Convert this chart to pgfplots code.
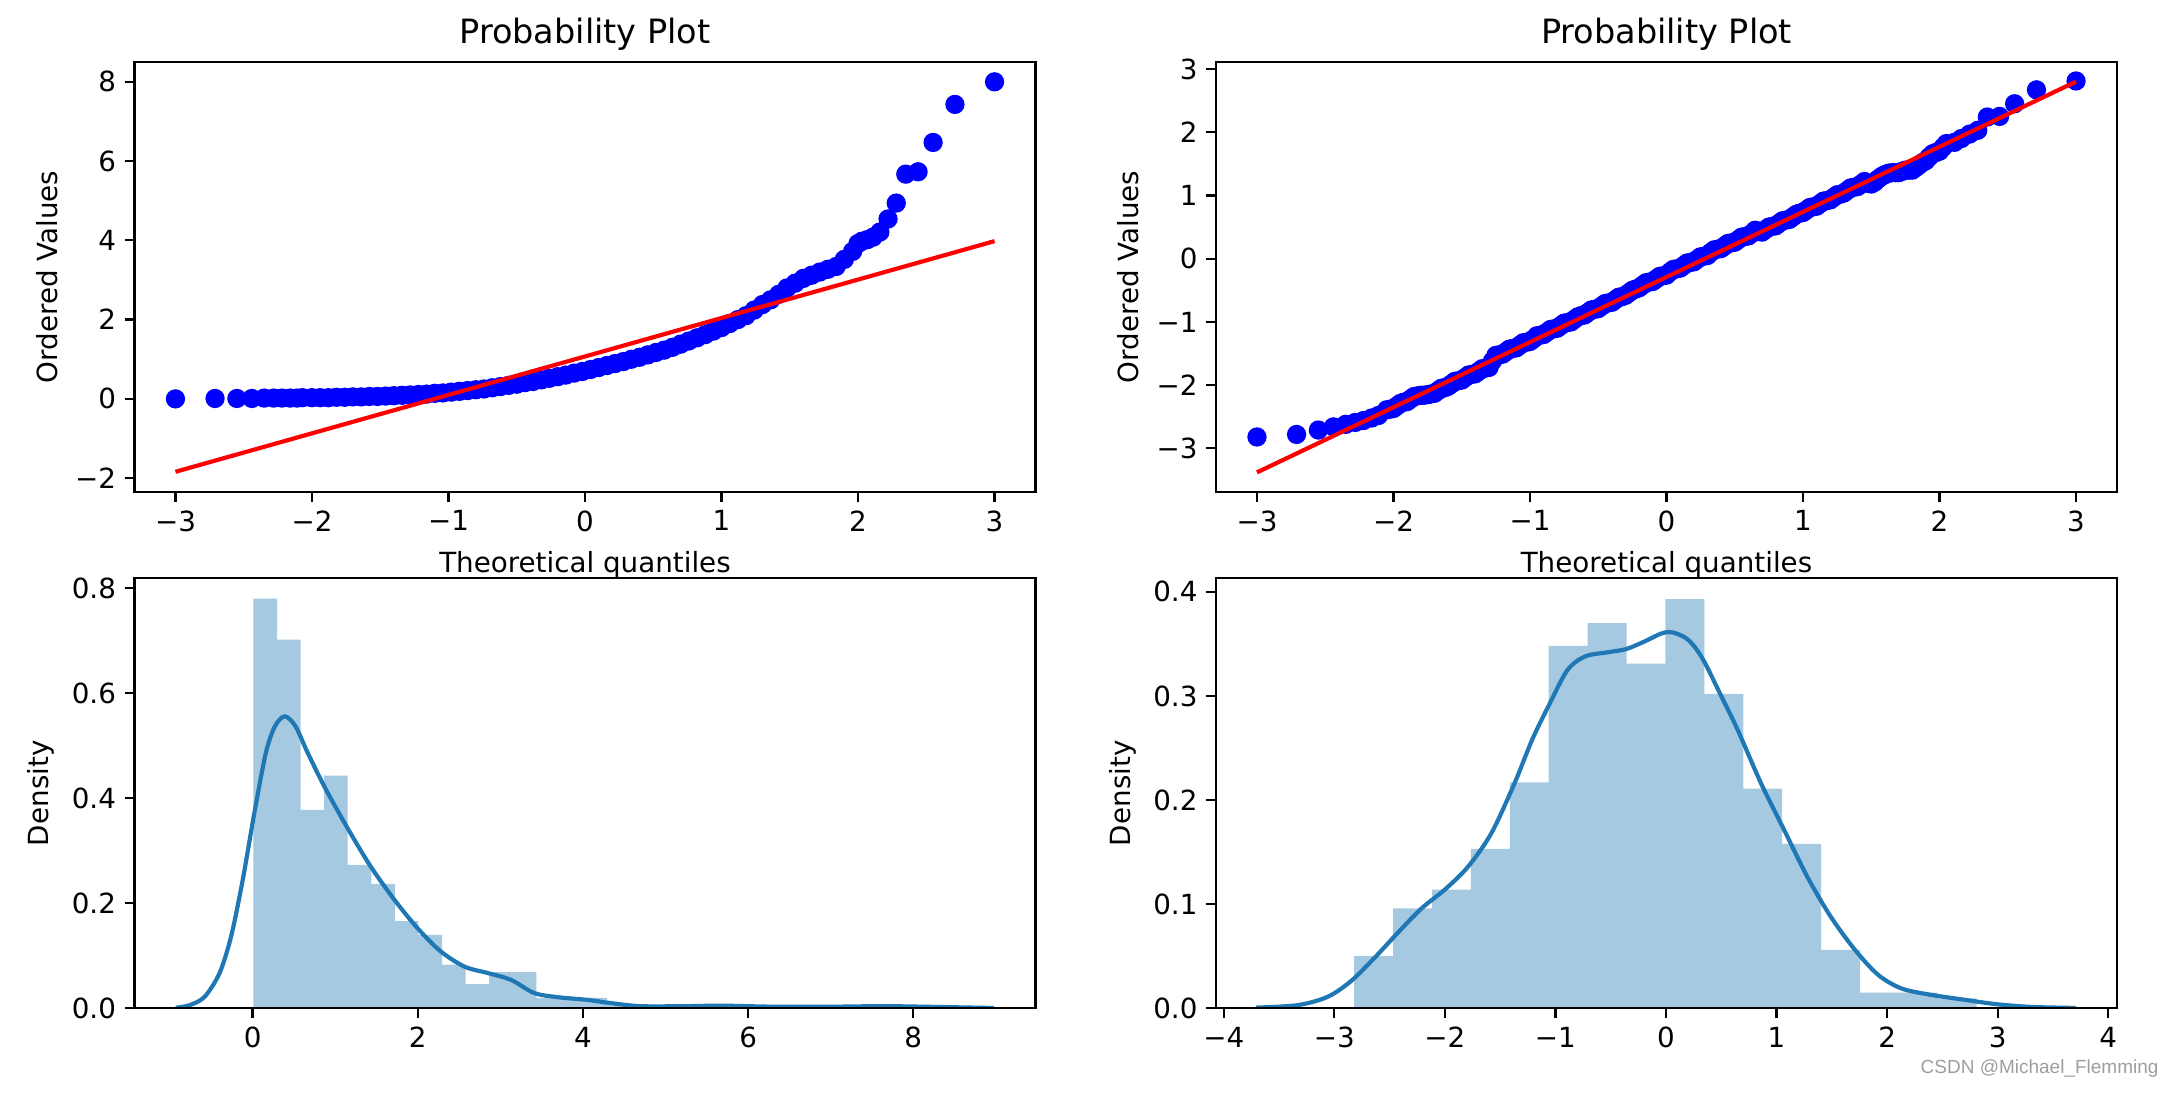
\documentclass[border=0pt]{standalone}
\usepackage{fontspec}
\setmainfont{DejaVu Sans}
\newfontfamily\wmfont{Liberation Sans}
\usepackage{pgfplots}
\pgfplotsset{compat=1.18}
\definecolor{c0}{HTML}{1F77B4}
\definecolor{histc}{HTML}{A5C9E1}
\definecolor{wmgray}{HTML}{9E9E9E}

\pgfplotsset{
  mpl/.style={
    scale only axis, width=360.4pt, height=172pt,
    axis on top, clip marker paths=true,
    axis line style={line width=0.89pt},
    tick align=outside, major tick length=3.9pt,
    every tick/.style={black, line width=0.89pt},
    xtick pos=bottom, ytick pos=left,
    tick label style={font=\fontsize{11.1}{13}\selectfont},
    label style={font=\fontsize{11.1}{13}\selectfont},
    title style={font=\fontsize{13.4}{16}\selectfont, yshift=-5pt},
    /pgf/number format/assume math mode=true,
  },
  qq/.style={
    mpl, xmin=-3.3, xmax=3.3,
    xtick={-3,-2,-1,0,1,2,3},
    xticklabels={−3,−2,−1,0,1,2,3},
    title={Probability Plot},
    xlabel={Theoretical quantiles},
    xlabel style={yshift=-1.2pt},
    ylabel={Ordered Values},
  },
  pts/.style={only marks, mark=*, mark size=3.3pt, mark options={fill=blue, draw=blue, line width=1.1pt}},
  fitline/.style={red, line width=1.67pt},
  kde/.style={c0, line width=1.67pt, smooth},
  hist/.style={ybar interval, fill=histc, draw=none},
}

\pgfplotstableread{
x y
-3.00 0.00
-2.71 0.01
-2.55 0.01
-2.44 0.01
-2.35 0.02
-2.28 0.02
-2.22 0.02
-2.16 0.02
-2.11 0.02
-2.07 0.03
-2.00 0.03
-1.94 0.03
-1.88 0.03
-1.82 0.04
-1.76 0.04
-1.70 0.05
-1.64 0.05
-1.58 0.06
-1.52 0.06
-1.46 0.07
-1.40 0.08
-1.34 0.09
-1.28 0.10
-1.22 0.11
-1.16 0.12
-1.10 0.14
-1.04 0.15
-0.98 0.17
-0.92 0.19
-0.86 0.21
-0.80 0.23
-0.74 0.25
-0.68 0.28
-0.62 0.31
-0.56 0.34
-0.50 0.37
-0.44 0.41
-0.38 0.44
-0.32 0.48
-0.26 0.52
-0.20 0.56
-0.14 0.60
-0.08 0.65
-0.02 0.69
0.04 0.74
0.10 0.79
0.16 0.84
0.22 0.89
0.28 0.94
0.34 1.00
0.40 1.05
0.46 1.11
0.52 1.17
0.58 1.23
0.64 1.30
0.70 1.38
0.76 1.46
0.82 1.54
0.88 1.62
0.94 1.71
1.00 1.80
1.06 1.90
1.12 2.00
1.18 2.10
1.24 2.24
1.30 2.38
1.36 2.50
1.42 2.64
1.48 2.80
1.54 2.92
1.60 3.04
1.66 3.12
1.72 3.20
1.78 3.27
1.84 3.34
1.90 3.52
1.96 3.72
2.00 3.92
2.03 3.98
2.07 4.02
2.11 4.08
2.16 4.21
2.22 4.54
2.28 4.94
2.35 5.67
2.44 5.73
2.55 6.47
2.71 7.43
3.00 8.00
}\qqleft

\pgfplotstableread{
x y
-3.00 -2.82
-2.71 -2.78
-2.55 -2.71
-2.44 -2.66
-2.35 -2.62
-2.28 -2.59
-2.22 -2.56
-2.16 -2.52
-2.11 -2.48
-2.05 -2.39
-2.00 -2.37
-1.95 -2.29
-1.90 -2.26
-1.85 -2.18
-1.80 -2.16
-1.75 -2.15
-1.70 -2.13
-1.65 -2.05
-1.60 -2.02
-1.55 -1.94
-1.50 -1.92
-1.45 -1.84
-1.40 -1.82
-1.35 -1.74
-1.30 -1.72
-1.25 -1.53
-1.20 -1.51
-1.15 -1.43
-1.10 -1.41
-1.05 -1.33
-1.00 -1.31
-0.95 -1.22
-0.90 -1.20
-0.85 -1.12
-0.80 -1.10
-0.75 -1.02
-0.70 -1.00
-0.65 -0.92
-0.60 -0.89
-0.55 -0.81
-0.50 -0.79
-0.45 -0.71
-0.40 -0.69
-0.35 -0.61
-0.30 -0.58
-0.25 -0.50
-0.20 -0.46
-0.15 -0.38
-0.10 -0.36
-0.05 -0.28
0.00 -0.26
0.05 -0.17
0.10 -0.15
0.15 -0.07
0.20 -0.05
0.25 0.03
0.30 0.05
0.35 0.14
0.40 0.16
0.45 0.24
0.50 0.26
0.55 0.34
0.60 0.36
0.65 0.45
0.70 0.42
0.75 0.50
0.80 0.52
0.85 0.60
0.90 0.62
0.95 0.70
1.00 0.73
1.05 0.81
1.10 0.83
1.15 0.91
1.20 0.93
1.25 1.01
1.30 1.04
1.35 1.12
1.40 1.14
1.45 1.22
1.50 1.18
1.55 1.26
1.60 1.33
1.65 1.36
1.70 1.36
1.75 1.40
1.80 1.40
1.85 1.48
1.90 1.55
1.95 1.66
2.00 1.70
2.05 1.82
2.11 1.84
2.16 1.90
2.22 1.97
2.28 2.03
2.35 2.24
2.44 2.25
2.55 2.45
2.71 2.67
3.00 2.81
-2.025 -2.38
-1.975 -2.33
-1.925 -2.27
-1.875 -2.22
-1.825 -2.17
-1.775 -2.16
-1.725 -2.14
-1.675 -2.09
-1.625 -2.04
-1.575 -1.98
-1.525 -1.93
-1.475 -1.88
-1.425 -1.83
-1.375 -1.78
-1.325 -1.73
-1.275 -1.62
-1.225 -1.52
-1.175 -1.47
-1.125 -1.42
-1.075 -1.37
-1.025 -1.32
-0.975 -1.27
-0.925 -1.21
-0.875 -1.16
-0.825 -1.11
-0.775 -1.06
-0.725 -1.01
-0.675 -0.96
-0.625 -0.90
-0.575 -0.85
-0.525 -0.80
-0.475 -0.75
-0.425 -0.70
-0.375 -0.65
-0.325 -0.60
-0.275 -0.54
-0.225 -0.48
-0.175 -0.42
-0.125 -0.37
-0.075 -0.32
-0.025 -0.27
0.025 -0.21
0.075 -0.16
0.125 -0.11
0.175 -0.06
0.225 -0.01
0.275 0.04
0.325 0.10
0.375 0.15
0.425 0.20
0.475 0.25
0.525 0.30
0.575 0.35
0.625 0.40
0.675 0.43
0.725 0.46
0.775 0.51
0.825 0.56
0.875 0.61
0.925 0.66
0.975 0.72
1.025 0.77
1.075 0.82
1.125 0.87
1.175 0.92
1.225 0.97
1.275 1.02
1.325 1.08
1.375 1.13
1.425 1.18
1.475 1.19
1.525 1.21
1.575 1.30
1.625 1.35
1.675 1.36
1.725 1.38
1.775 1.40
1.825 1.44
1.875 1.52
1.925 1.61
1.975 1.68
2.025 1.76
}\qqright

\pgfplotstableread{
x y
0.0100 0.780
0.2955 0.702
0.5810 0.378
0.8665 0.443
1.1520 0.273
1.4375 0.237
1.7230 0.166
2.0085 0.140
2.2940 0.083
2.5795 0.046
2.8650 0.069
3.1505 0.069
3.4360 0.020
3.7215 0.020
4.0070 0.020
4.2925 0.006
4.5780 0
4.8635 0.006
5.1490 0
5.4345 0.006
5.7200 0.005
6.0055 0
6.2910 0.005
6.5765 0
6.8620 0
7.1475 0.005
7.4330 0
7.7185 0.005
8.0040 0
}\histleft

\pgfplotstableread{
x y
-0.93 0.001
-0.76 0.006
-0.58 0.022
-0.40 0.067
-0.26 0.137
-0.12 0.244
0.02 0.371
0.16 0.486
0.27 0.537
0.39 0.556
0.52 0.537
0.66 0.489
0.87 0.422
1.15 0.343
1.43 0.270
1.72 0.206
2.00 0.152
2.28 0.108
2.57 0.079
2.85 0.067
3.13 0.054
3.41 0.029
3.70 0.021
4.05 0.016
4.33 0.010
4.69 0.004
5.25 0.004
5.67 0.005
6.31 0.003
7.02 0.003
7.65 0.004
8.29 0.0025
8.98 0.0005
}\kdeleft

\pgfplotstableread{
x y
-2.820 0.050
-2.468 0.096
-2.116 0.114
-1.764 0.153
-1.412 0.217
-1.061 0.348
-0.709 0.370
-0.357 0.331
-0.005 0.393
0.347 0.302
0.699 0.211
1.051 0.158
1.403 0.056
1.755 0.015
2.106 0.015
2.458 0.0096
2.810 0
}\histright

\pgfplotstableread{
x y
-3.71 0.0006
-3.33 0.003
-3.06 0.011
-2.85 0.026
-2.64 0.048
-2.43 0.072
-2.21 0.096
-2.00 0.114
-1.79 0.136
-1.58 0.168
-1.37 0.216
-1.21 0.258
-1.05 0.293
-0.89 0.325
-0.73 0.338
-0.52 0.342
-0.36 0.345
-0.20 0.352
-0.04 0.360
0.06 0.361
0.20 0.354
0.33 0.336
0.49 0.302
0.65 0.267
0.86 0.216
1.07 0.171
1.28 0.126
1.49 0.088
1.71 0.056
1.92 0.032
2.13 0.019
2.39 0.013
2.71 0.008
2.98 0.004
3.30 0.0013
3.71 0.0003
}\kderight

\begin{document}
\begin{tikzpicture}
\path[use as bounding box] (0,0) rectangle (869.6pt,437.2pt);

% top left
\begin{axis}[qq, at={(53.8pt,240.4pt)}, anchor=south west,
  ymin=-2.35, ymax=8.5,
  ytick={-2,0,2,4,6,8}, yticklabels={−2,0,2,4,6,8}]
  \addplot[pts] table[x=x,y=y] {\qqleft};
  \addplot[fitline] coordinates {(-3,-1.84) (3,3.98)};
\end{axis}

% top right
\begin{axis}[qq, at={(486.4pt,240.4pt)}, anchor=south west,
  ymin=-3.69, ymax=3.11,
  ytick={-3,-2,-1,0,1,2,3}, yticklabels={−3,−2,−1,0,1,2,3}]
  \addplot[pts] table[x=x,y=y] {\qqright};
  \addplot[fitline] coordinates {(-3,-3.38) (3,2.80)};
\end{axis}

% bottom left
\begin{axis}[mpl, at={(53.8pt,33.9pt)}, anchor=south west,
  xmin=-1.43, xmax=9.48, ymin=0, ymax=0.819,
  xtick={0,2,4,6,8}, xticklabels={0,2,4,6,8},
  ytick={0,0.2,0.4,0.6,0.8}, yticklabels={0.0,0.2,0.4,0.6,0.8},
  ylabel={Density}]
  \addplot[hist] table[x=x,y=y] {\histleft};
  \addplot[kde] table[x=x,y=y] {\kdeleft};
\end{axis}

% bottom right
\begin{axis}[mpl, at={(486.4pt,33.9pt)}, anchor=south west,
  xmin=-4.07, xmax=4.08, ymin=0, ymax=0.413,
  xtick={-4,-3,-2,-1,0,1,2,3,4}, xticklabels={−4,−3,−2,−1,0,1,2,3,4},
  ytick={0,0.1,0.2,0.3,0.4}, yticklabels={0.0,0.1,0.2,0.3,0.4},
  ylabel={Density}]
  \addplot[hist] table[x=x,y=y] {\histright};
  \addplot[kde] table[x=x,y=y] {\kderight};
\end{axis}

\node[anchor=base east, inner sep=0pt, text=wmgray, font=\wmfont\fontsize{7.6}{9}\selectfont] at (863.6pt,8pt) {CSDN @Michael\_Flemming};
\end{tikzpicture}
\end{document}
